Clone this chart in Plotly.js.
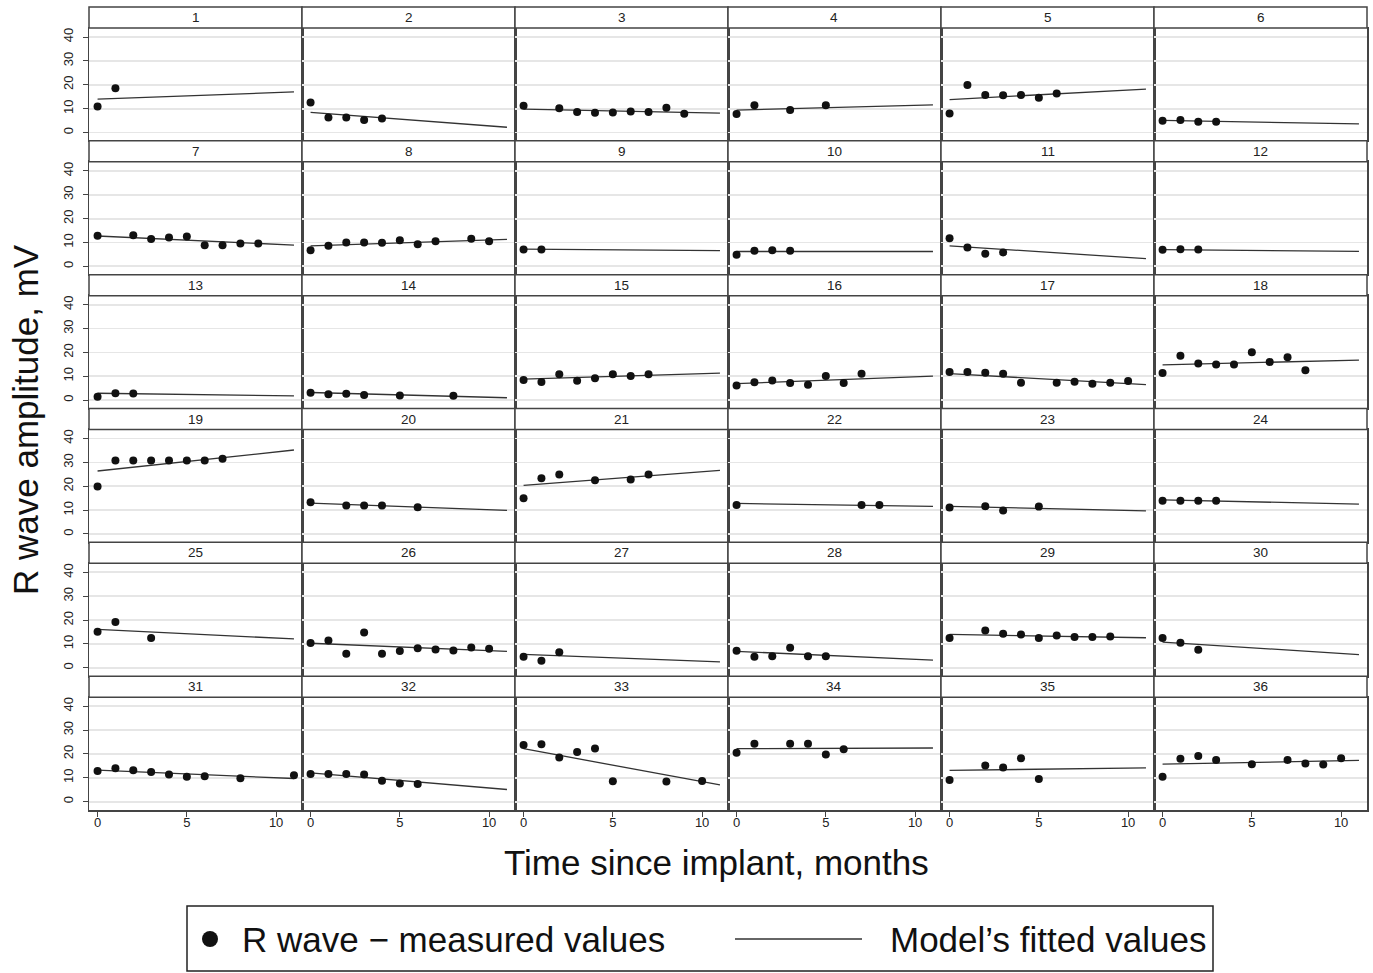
<!DOCTYPE html>
<html>
<head>
<meta charset="utf-8">
<script src="https://cdn.plot.ly/plotly-3.0.1.min.js"></script>
<style>html,body{margin:0;padding:0;background:#fff;}#chart{width:1373px;height:973px;}</style>
</head>
<body>
<div id="chart"></div>
<script>
// ---- data ----
const patients = [1,2,3,4,5,6,7,8,9,10,11,12,13,14,15,16,17,18,19,20,21,22,23,24,25,26,27,28,29,30,31,32,33,34,35,36];
const months = [
  [0,1],[0,1,2,3,4],[0,2,3,4,5,6,7,8,9],[0,1,3,5],[0,1,2,3,4,5,6],[0,1,2,3],
  [0,2,3,4,5,6,7,8,9],[0,1,2,3,4,5,6,7,9,10],[0,1],[0,1,2,3],[0,1,2,3],[0,1,2],
  [0,1,2],[0,1,2,3,5,8],[0,1,2,3,4,5,6,7],[0,1,2,3,4,5,6,7],[0,1,2,3,4,6,7,8,9,10],[0,1,2,3,4,5,6,7,8],
  [0,1,2,3,4,5,6,7],[0,2,3,4,6],[0,1,2,4,6,7],[0,7,8],[0,2,3,5],[0,1,2,3],
  [0,1,3],[0,1,2,3,4,5,6,7,8,9,10],[0,1,2],[0,1,2,3,4,5],[0,2,3,4,5,6,7,8,9],[0,1,2],
  [0,1,2,3,4,5,6,8,11],[0,1,2,3,4,5,6],[0,1,2,3,4,5,8,10],[0,1,3,4,5,6],[0,2,3,4,5],[0,1,2,3,5,7,8,9,10]
];
const rWave = [
  [10.9,18.5],[12.6,6.3,6.3,5.2,5.9],[11.2,10.2,8.6,8.3,8.4,8.8,8.6,10.4,7.9],[7.7,11.4,9.4,11.4],[8.0,19.9,15.7,15.6,15.7,14.6,16.3],[4.9,5.2,4.5,4.5],
  [12.8,13.0,11.4,12.1,12.5,8.8,8.8,9.6,9.6],[6.7,8.6,10.0,10.0,9.9,10.9,9.2,10.5,11.6,10.5],[7.0,7.1],[4.9,6.5,6.7,6.5],[11.8,7.9,5.3,5.8],[6.9,7.2,7.0],
  [1.4,2.9,2.8],[3.1,2.5,2.7,2.2,2.0,1.8],[8.4,7.6,10.9,8.1,9.2,10.9,10.1,10.9],[6.1,7.5,8.2,7.2,6.5,10.1,7.2,11.1],[11.8,11.8,11.5,11.1,7.3,7.3,7.7,6.9,7.3,8.0],[11.4,18.6,15.4,14.9,14.9,20.1,16.0,18.0,12.5],
  [19.9,30.8,30.8,30.8,30.8,30.8,30.8,31.5],[13.3,11.9,11.9,11.9,11.2],[15.0,23.4,24.9,22.5,22.8,24.9],[12.2,12.2,12.2],[11.1,11.6,9.8,11.5],[13.9,13.9,13.9,13.9],
  [15.1,19.2,12.5],[10.4,11.4,5.9,14.8,5.9,7.0,8.2,7.7,7.3,8.5,8.0],[4.6,3.0,6.5],[7.2,4.6,4.9,8.4,4.9,4.8],[12.5,15.6,14.3,14.0,12.5,13.5,12.9,12.9,13.1],[12.5,10.5,7.6],
  [12.9,14.0,13.2,12.4,11.4,10.4,10.7,9.8,11.1],[11.6,11.6,11.6,11.4,8.8,7.6,7.4],[23.7,24.1,18.5,20.8,22.3,8.6,8.4,8.7],[20.5,24.3,24.3,24.3,19.8,22.0],[9.1,15.2,14.3,18.2,9.5],[10.4,18.0,19.1,17.5,15.7,17.5,16.0,15.6,18.2]
];
const fitMonths = [0, 11];
const fitStart = [14.0,8.4,9.8,9.4,13.8,5.1, 12.7,8.6,7.2,6.2,8.6,7.0, 2.9,3.2,8.8,6.9,11.1,14.8, 26.4,12.9,20.4,12.8,11.6,14.3, 16.1,10.3,5.6,6.9,14.0,10.8, 13.2,12.1,22.2,22.2,13.1,15.7];
const fitEnd   = [17.0,2.2,8.1,11.6,18.2,3.6, 8.9,11.3,6.6,6.2,3.2,6.3, 1.8,1.0,11.3,10.1,6.5,16.8, 35.2,9.9,26.7,11.6,9.7,12.5, 12.1,6.9,2.5,3.2,12.6,5.5, 9.7,5.1,7.0,22.5,14.2,17.3];
const yTicks = [0,10,20,30,40];
const xTicks = [0,5,10];
const yTitle = 'R wave amplitude, mV';
const xTitle = 'Time since implant, months';
const legendLabels = ['R wave \u2212 measured values', 'Model\u2019s fitted values'];

// ---- layout geometry ----
const W = 1373, H = 973;
const ML = 89, MR = 6, MT = 7, MB = 163;
const PW = W - ML - MR, PH = H - MT - MB;
const NC = 6, NR = 6;
const STRIP = 21 / PH;
const FONT = 'Liberation Sans, Arial, Helvetica, sans-serif';
const LINE = '#444';
const px = x => (x - ML) / PW;
const py = y => (H - MB - y) / PH;

const traces = [];
const layout = {
  width: W, height: H,
  margin: {l: ML, r: MR, t: MT, b: MB, pad: 0},
  paper_bgcolor: '#fff', plot_bgcolor: '#fff',
  showlegend: false,
  font: {family: FONT, color: '#111'},
  shapes: [], annotations: []
};

patients.forEach((p, i) => {
  const r = Math.floor(i / NC), c = i % NC;
  const k = i === 0 ? '' : String(i + 1);
  const x0 = c / NC, x1 = (c + 1) / NC;
  const rowTop = 1 - r / NR, rowBot = 1 - (r + 1) / NR;
  const plotTop = rowTop - STRIP;
  layout['xaxis' + k] = {
    domain: [x0, x1], anchor: 'y' + k, range: [-0.48, 11.45],
    showgrid: false, zeroline: false,
    showline: true, mirror: true, linecolor: LINE, linewidth: 1.5,
    tickmode: 'array', tickvals: xTicks, ticktext: xTicks.map(String),
    ticks: r === NR - 1 ? 'outside' : '', ticklen: 5, tickcolor: LINE, tickwidth: 1,
    showticklabels: r === NR - 1, ticklabelstandoff: -5,
    tickfont: {family: FONT, size: 13, color: '#222'}
  };
  layout['yaxis' + k] = {
    domain: [rowBot, plotTop], anchor: 'x' + k, range: [-3.5, 43.8],
    showgrid: true, gridcolor: '#e6e6e6', gridwidth: 1.8, zeroline: false,
    showline: true, mirror: true, linecolor: LINE, linewidth: 1.5,
    tickmode: 'array', tickvals: yTicks, ticktext: yTicks.map(String),
    ticks: c === 0 ? 'outside' : '', ticklen: 5, tickcolor: LINE, tickwidth: 1,
    showticklabels: c === 0, tickangle: -90, ticklabelstandoff: 4,
    tickfont: {family: FONT, size: 13, color: '#222'}
  };
  // strip header
  layout.shapes.push({type: 'rect', xref: 'paper', yref: 'paper', x0: x0, x1: x1, y0: plotTop, y1: rowTop,
    line: {color: LINE, width: 1.5}, fillcolor: '#fff', layer: 'above'});
  layout.annotations.push({xref: 'paper', yref: 'paper', x: (x0 + x1) / 2, y: (plotTop + rowTop) / 2,
    text: String(p), showarrow: false, xanchor: 'center', yanchor: 'middle',
    font: {family: FONT, size: 13.5, color: '#222'}});
  // fitted line
  traces.push({type: 'scatter', mode: 'lines', x: fitMonths, y: [fitStart[i], fitEnd[i]],
    xaxis: 'x' + k, yaxis: 'y' + k, line: {color: '#333', width: 1.3}, name: legendLabels[1], hoverinfo: 'skip'});
  // measured values
  traces.push({type: 'scatter', mode: 'markers', x: months[i], y: rWave[i],
    xaxis: 'x' + k, yaxis: 'y' + k, marker: {color: '#111', size: 8, line: {width: 0}}, name: legendLabels[0]});
});

// axis titles
layout.annotations.push({xref: 'paper', yref: 'paper', x: px(25), y: py(420), text: yTitle, textangle: -90,
  showarrow: false, xanchor: 'center', yanchor: 'middle', font: {family: FONT, size: 35, color: '#111'}});
layout.annotations.push({xref: 'paper', yref: 'paper', x: px(716), y: py(862), text: xTitle,
  showarrow: false, xanchor: 'center', yanchor: 'middle', font: {family: FONT, size: 35, color: '#111'}});

// legend box
layout.shapes.push({type: 'rect', xref: 'paper', yref: 'paper', x0: px(187), x1: px(1213), y0: py(971), y1: py(906),
  line: {color: '#222', width: 1.5}, fillcolor: 'rgba(0,0,0,0)'});
layout.shapes.push({type: 'circle', xref: 'paper', yref: 'paper', x0: px(202), x1: px(218), y0: py(947), y1: py(931),
  line: {width: 0}, fillcolor: '#111'});
layout.shapes.push({type: 'line', xref: 'paper', yref: 'paper', x0: px(735), x1: px(862), y0: py(939), y1: py(939),
  line: {color: '#333', width: 1.5}});
layout.annotations.push({xref: 'paper', yref: 'paper', x: px(240), y: py(939), text: legendLabels[0],
  showarrow: false, xanchor: 'left', yanchor: 'middle', font: {family: FONT, size: 35, color: '#111'}});
layout.annotations.push({xref: 'paper', yref: 'paper', x: px(888), y: py(939), text: legendLabels[1],
  showarrow: false, xanchor: 'left', yanchor: 'middle', font: {family: FONT, size: 35, color: '#111'}});

Plotly.newPlot('chart', traces, layout, {staticPlot: true, displayModeBar: false});
</script>
</body>
</html>
